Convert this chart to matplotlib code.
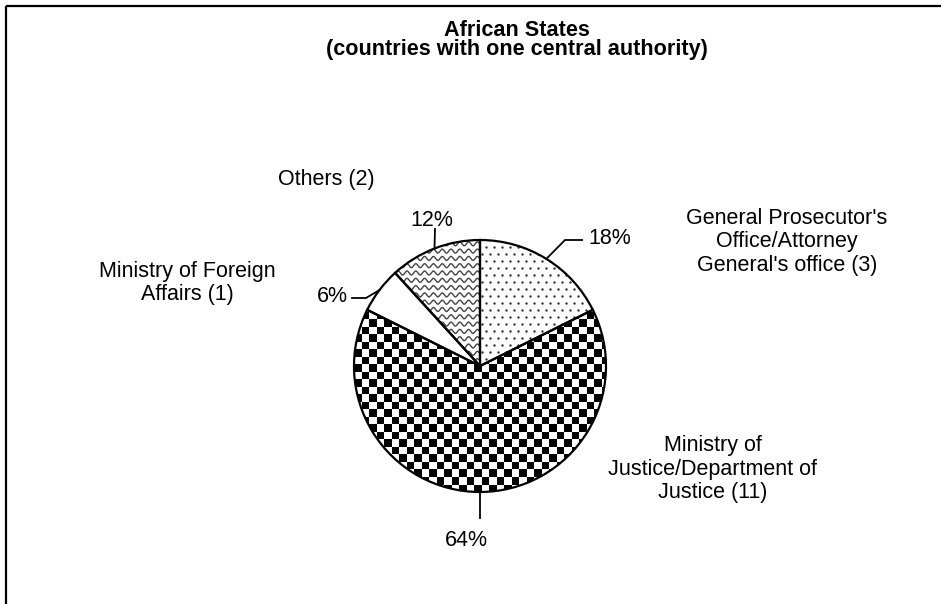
import numpy as np
import matplotlib.pyplot as plt

plt.rcParams['font.family'] = ['Liberation Sans', 'DejaVu Sans']

title = "African States\n(countries with one central authority)"
categories = ["General Prosecutor's\nOffice/Attorney\nGeneral's office (3)",
              "Ministry of\nJustice/Department of\nJustice (11)",
              "Ministry of Foreign\nAffairs (1)",
              "Others (2)"]
counts = [3, 11, 1, 2]
pct_labels = ["18%", "64%", "6%", "12%"]

W, H = 941, 604
fig = plt.figure(figsize=(W / 100, H / 100), dpi=100)
ax = fig.add_axes([0, 0, 1, 1])

# work in pixel units, y going up
cx, cy, r = 480, H - 366, 126

wedges, _ = ax.pie(counts, radius=r, center=(cx, cy), startangle=90, counterclock=False,
                   wedgeprops=dict(facecolor='none', edgecolor='black', linewidth=1.6, zorder=3))

# dotted fill - prosecutor
gx, gy = np.meshgrid(np.arange(cx - r, cx + r, 8.0), np.arange(cy - r, cy + r, 7.0))
gx[1::2] += 4
sc = ax.scatter(gx.ravel(), gy.ravel(), s=3, color='#333333', linewidths=0, zorder=2)
sc.set_clip_path(wedges[0])

# checkerboard - justice
cell = 7.5
n = int(2 * r / cell) + 2
board = np.indices((n, n)).sum(axis=0) % 2
im = ax.imshow(board, cmap='gray', interpolation='nearest', origin='lower',
               extent=(cx - r, cx - r + n * cell, cy - r, cy - r + n * cell), zorder=2)
im.set_clip_path(wedges[1])

# wavy lines - others
t = np.linspace(cx - r, cx + r, 800)
for y0 in np.arange(cy - r, cy + r, 7.3):
    ln, = ax.plot(t, y0 + 2.0 * np.sin(2 * np.pi * t / 8.8), color='#444444', lw=1.0, zorder=2)
    ln.set_clip_path(wedges[3])

ax.set_xlim(0, W)
ax.set_ylim(0, H)
ax.set_aspect('equal')
ax.axis('off')

# percentage labels with leader lines (image coords, y down)
leader_pts = [[(565, 240), (582, 240)],
              [(480, 518)],
              [(366, 298), (352, 298)],
              [(435, 229)]]
pct_pos = [(588, 239, 'left'), (466, 541, 'center'), (348, 297, 'right'), (432, 221, 'center')]
for w, pts, (tx, ty, ha), lab in zip(wedges, leader_pts, pct_pos, pct_labels):
    a = np.deg2rad((w.theta1 + w.theta2) / 2)
    xs = [cx + r * np.cos(a)] + [p[0] for p in pts]
    ys = [cy + r * np.sin(a)] + [H - p[1] for p in pts]
    ax.plot(xs, ys, color='black', lw=1.3, zorder=4)
    ax.text(tx, H - ty, lab, fontsize=15.5, ha=ha, va='center')

cat_pos = [(787, 242), (713, 469), (187, 283), (326, 180)]
for lab, (tx, ty) in zip(categories, cat_pos):
    ax.text(tx, H - ty, lab, fontsize=15.5, ha='center', va='center', linespacing=1.15)

ax.text(517, H - 40, title, fontsize=15.6, fontweight='bold', ha='center', va='center',
        linespacing=0.92)

# chart area frame (runs off the right and bottom)
ax.plot([6, 6], [0, H - 6], color='black', lw=1.6, solid_capstyle='butt')
ax.plot([6, W], [H - 6, H - 6], color='black', lw=1.6, solid_capstyle='butt')

fig.savefig('out.png', dpi=100)
